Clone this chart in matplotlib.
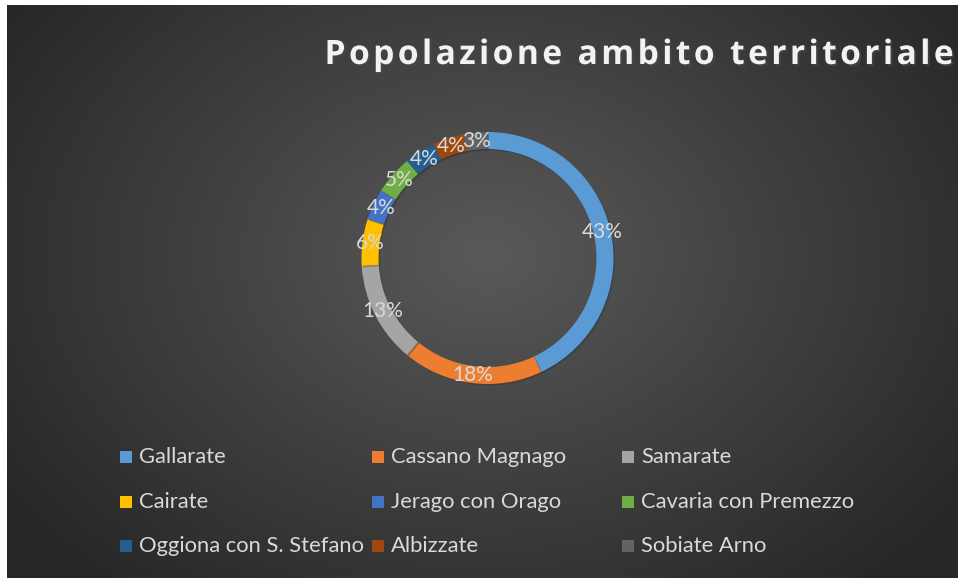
import matplotlib.pyplot as plt
import numpy as np
import matplotlib.patheffects as pe
from matplotlib.patches import Rectangle

plt.rcParams['font.family'] = ['Lato', 'DejaVu Sans']

# data
comuni = ['Gallarate', 'Cassano Magnago', 'Samarate', 'Cairate', 'Jerago con Orago',
          'Cavaria con Premezzo', 'Oggiona con S. Stefano', 'Albizzate', 'Sobiate Arno']
quote = [43, 18, 13, 6, 4, 5, 4, 4, 3]
colori = ['#5B9BD5', '#ED7D31', '#A5A5A5', '#FFC000', '#4472C4',
          '#70AD47', '#255E91', '#9E480E', '#636363']
titolo = 'Popolazione ambito territoriale'

W, H = 958, 578
fig = plt.figure(figsize=(W / 100, H / 100), dpi=100)
fig.patch.set_facecolor('white')

# dark radial background
bg = fig.add_axes([7 / W, 0, 1 - 7 / W, 1 - 5 / H])
bg.set_axis_off()
yy, xx = np.mgrid[0:573, 0:951]
d = np.sqrt(((xx - 480) / 560) ** 2 + ((yy - 250) / 420) ** 2)
lum = np.clip(0.35 - 0.19 * d, 0.155, 0.35)
bg.imshow(np.dstack([lum, lum, lum]), aspect='auto', extent=[0, 1, 0, 1], interpolation='bilinear')
bg.set_xlim(0, 1)
bg.set_ylim(0, 1)

# donut
cx, cy, r = 487.5, 320, 126
ax = fig.add_axes([(cx - r) / W, (cy - r) / H, 2 * r / W, 2 * r / H])
ax.set_axis_off()
wedges, texts, autotexts = ax.pie(
    quote, colors=colori, startangle=90, counterclock=False, radius=1,
    autopct='%1.0f%%', pctdistance=0.935,
    wedgeprops=dict(width=0.135, edgecolor='none'),
    textprops=dict(color='#d9d9d9', fontsize=15))
for w in wedges:
    w.set_path_effects([pe.SimplePatchShadow(offset=(1, -1), alpha=0.35), pe.Normal()])
ax.set_xlim(-1, 1)
ax.set_ylim(-1, 1)

# title, letter-spaced like the original
spaziato = '\u200a'.join(titolo)
fig.text(639 / W, 1 - 55 / H, spaziato, ha='center', va='center', fontsize=24.2,
         fontweight='bold', color='#f2f2f2', family=['Open Sans', 'DejaVu Sans'],
         path_effects=[pe.withSimplePatchShadow(offset=(1.5, -1.5), alpha=0.6)])

# legend (equal width columns like Excel)
col_x = [120, 372, 622]
row_y = [457, 502, 546]
for i, (nome, c) in enumerate(zip(comuni, colori)):
    x0 = col_x[i % 3]
    y0 = row_y[i // 3]
    fig.patches.append(Rectangle((x0 / W, (H - y0 - 6) / H), 12 / W, 12 / H,
                                 transform=fig.transFigure, facecolor=c, edgecolor='none'))
    fig.text((x0 + 19) / W, 1 - y0 / H, nome, ha='left', va='center',
             fontsize=15.8, color='#d9d9d9')

fig.savefig('out.png', dpi=100)
